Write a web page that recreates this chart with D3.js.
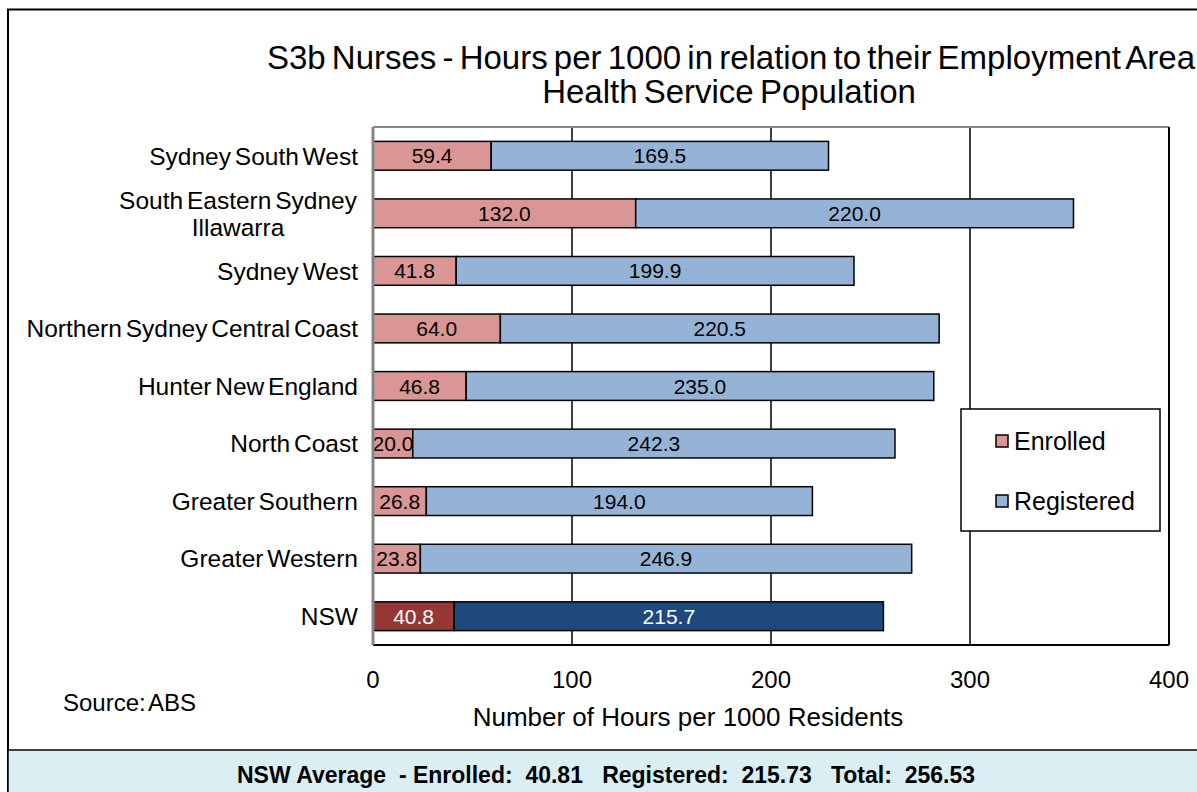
<!DOCTYPE html>
<html>
<head>
<meta charset="utf-8">
<script src="https://cdn.jsdelivr.net/npm/d3@7"></script>
<style>
  body { margin: 0; background: #fff; }
  svg { display: block; font-family: "Liberation Sans", Arial, sans-serif; }
</style>
</head>
<body>
<svg id="chart" width="1197" height="792"></svg>
<script>
// Data
const regions = ["Sydney South West", "South Eastern Sydney Illawarra", "Sydney West",
  "Northern Sydney Central Coast", "Hunter New England", "North Coast",
  "Greater Southern", "Greater Western", "NSW"];
const enrolled = [59.4, 132.0, 41.8, 64.0, 46.8, 20.0, 26.8, 23.8, 40.8];
const registered = [169.5, 220.0, 199.9, 220.5, 235.0, 242.3, 194.0, 246.9, 215.7];
const xTicks = [0, 100, 200, 300, 400];
const seriesNames = ["Enrolled", "Registered"];

const svg = d3.select("#chart");

// layout
const plot = {left: 373, right: 1169, top: 127, bottom: 645};
const colors = {
  Enrolled: "#d99694", Registered: "#95b3d7",
  EnrolledNSW: "#953735", RegisteredNSW: "#1f497d"
};

// outer frame + bottom band
svg.append("rect")
  .attr("x", 8).attr("y", 9.5)
  .attr("width", 1250).attr("height", 800)
  .attr("fill", "#fff").attr("stroke", "#000").attr("stroke-width", 2);
svg.append("rect")
  .attr("x", 8).attr("y", 750)
  .attr("width", 1250).attr("height", 60)
  .attr("fill", "#daeef3").attr("stroke", "#000").attr("stroke-width", 1.5);

// title
svg.append("text")
  .attr("x", 731).attr("y", 69)
  .attr("text-anchor", "middle")
  .style("font-size", "33px").style("word-spacing", "-3px")
  .text("S3b Nurses - Hours per 1000 in relation to their Employment Area");
svg.append("text")
  .attr("x", 729).attr("y", 103)
  .attr("text-anchor", "middle")
  .style("font-size", "33px").style("word-spacing", "-3px")
  .text("Health Service Population");

// scales
let x = d3.scaleLinear().domain([0, 400]).range([plot.left, plot.right]);
let y = d3.scaleBand().domain(regions).range([plot.top, plot.bottom]).paddingInner(0.5).paddingOuter(0.25);

// gridlines
svg.append("g")
  .selectAll("line")
  .data(xTicks.slice(1, -1))
  .enter().append("line")
  .attr("x1", d => x(d)).attr("x2", d => x(d))
  .attr("y1", plot.top).attr("y2", plot.bottom)
  .attr("stroke", "#000").attr("stroke-width", 1.5);

// plot frame: top/left gray, right/bottom black
svg.append("line").attr("x1", plot.left).attr("x2", plot.right)
  .attr("y1", plot.top).attr("y2", plot.top)
  .attr("stroke", "#868686").attr("stroke-width", 2);
svg.append("line").attr("x1", plot.right).attr("x2", plot.right)
  .attr("y1", plot.top).attr("y2", plot.bottom)
  .attr("stroke", "#000").attr("stroke-width", 2);
svg.append("line").attr("x1", plot.left).attr("x2", plot.right)
  .attr("y1", plot.bottom).attr("y2", plot.bottom)
  .attr("stroke", "#000").attr("stroke-width", 2);

// stacked bars
const rows = regions.map((r, i) => ({region: r, enrolled: enrolled[i], registered: registered[i]}));
const stack = d3.stack().keys(["enrolled", "registered"])(rows);

stack.forEach(layer => {
  const g = svg.append("g");
  g.selectAll("rect")
    .data(layer)
    .enter().append("rect")
    .attr("x", d => x(d[0]))
    .attr("y", d => y(d.data.region))
    .attr("width", d => x(d[1]) - x(d[0]))
    .attr("height", y.bandwidth())
    .attr("fill", d => {
      const nsw = d.data.region === "NSW";
      if (layer.key === "enrolled") return nsw ? colors.EnrolledNSW : colors.Enrolled;
      return nsw ? colors.RegisteredNSW : colors.Registered;
    })
    .attr("stroke", "#000").attr("stroke-width", 1.5);
  g.selectAll("text")
    .data(layer)
    .enter().append("text")
    .attr("x", d => (x(d[0]) + x(d[1])) / 2)
    .attr("y", d => y(d.data.region) + y.bandwidth() / 2)
    .attr("dy", "0.36em")
    .attr("text-anchor", "middle")
    .style("font-size", "21px")
    .attr("fill", d => d.data.region === "NSW" ? "#fff" : "#000")
    .text(d => (d[1] - d[0]).toFixed(1));
});

// left axis line (gray)
svg.append("line").attr("x1", plot.left).attr("x2", plot.left)
  .attr("y1", plot.top).attr("y2", plot.bottom)
  .attr("stroke", "#868686").attr("stroke-width", 3);

// category labels
const catLabels = {"South Eastern Sydney Illawarra": ["South Eastern Sydney", "Illawarra"]};
const yLab = svg.append("g");
regions.forEach(r => {
  const lines = catLabels[r] || [r];
  const cy = y(r) + y.bandwidth() / 2;
  const t = yLab.append("text")
    .style("font-size", "24.5px").style("word-spacing", "-3px");
  lines.forEach((ln, k) => {
    t.append("tspan")
      .attr("x", lines.length > 1 ? 238 : 358)
      .attr("text-anchor", lines.length > 1 ? "middle" : "end")
      .attr("y", cy + (k - (lines.length - 1) / 2) * 27)
      .attr("dy", "0.36em")
      .text(ln);
  });
});

// x tick labels
svg.append("g")
  .selectAll("text")
  .data(xTicks)
  .enter().append("text")
  .attr("x", d => x(d))
  .attr("y", 688)
  .attr("text-anchor", "middle")
  .style("font-size", "24px")
  .text(d => d);

// axis title
svg.append("text")
  .attr("x", 688).attr("y", 726)
  .attr("text-anchor", "middle")
  .style("font-size", "26px")
  .text("Number of Hours per 1000 Residents");

// source
svg.append("text")
  .attr("x", 63).attr("y", 711)
  .style("font-size", "24px").style("word-spacing", "-3px")
  .text("Source: ABS");

// legend
const legend = svg.append("g");
legend.append("rect")
  .attr("x", 961).attr("y", 409)
  .attr("width", 199).attr("height", 122)
  .attr("fill", "#fff").attr("stroke", "#000").attr("stroke-width", 1.5);
seriesNames.forEach((s, i) => {
  const ly = 441 + i * 60;
  legend.append("rect")
    .attr("x", 996).attr("y", ly - 6)
    .attr("width", 12).attr("height", 12)
    .attr("fill", colors[s]).attr("stroke", "#000").attr("stroke-width", 1.5);
  legend.append("text")
    .attr("x", 1014).attr("y", ly)
    .attr("dy", "0.36em")
    .style("font-size", "25px")
    .text(s);
});

// footer summary
svg.append("text")
  .attr("x", 606).attr("y", 783)
  .attr("text-anchor", "middle")
  .style("font-size", "23px")
  .style("font-weight", "bold")
  .attr("xml:space", "preserve")
  .text("NSW Average  - Enrolled:  40.81   Registered:  215.73   Total:  256.53");
</script>
</body>
</html>
